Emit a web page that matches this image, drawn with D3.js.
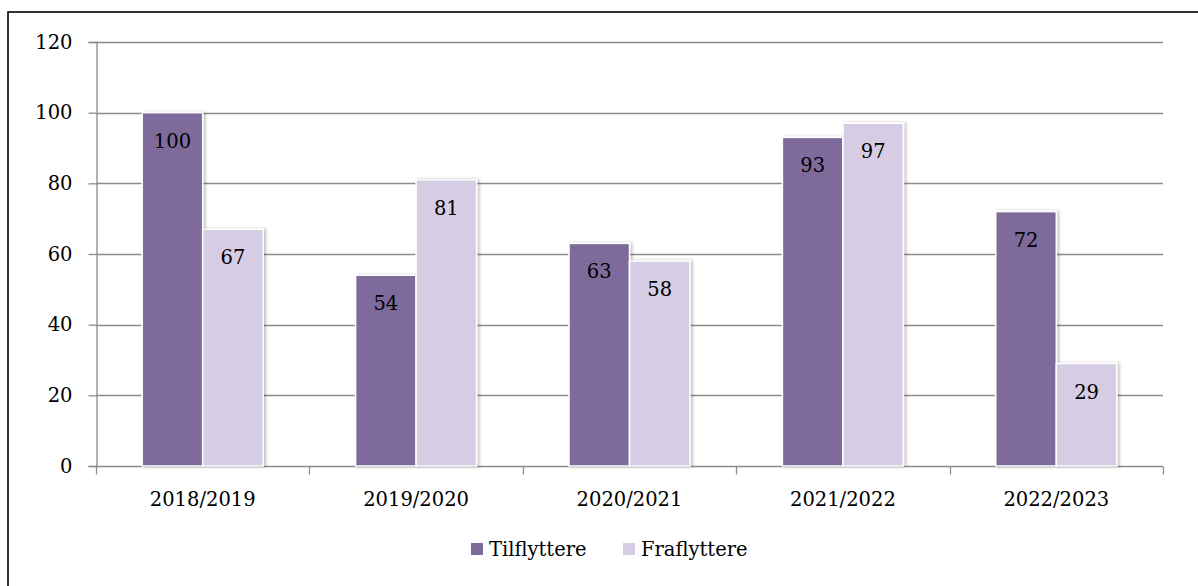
<!DOCTYPE html>
<html>
<head>
<meta charset="utf-8">
<script src="https://cdn.jsdelivr.net/npm/d3@7"></script>
<style>
  body { margin: 0; background: #fff; }
  svg { display: block; font-family: "DejaVu Serif", serif; }
</style>
</head>
<body>
<script>
// data
var years = ["2018/2019", "2019/2020", "2020/2021", "2021/2022", "2022/2023"];
var series = ["Tilflyttere", "Fraflyttere"];
var tilflyttere = [100, 54, 63, 93, 72];
var fraflyttere = [67, 81, 58, 97, 29];
var yTicks = [0, 20, 40, 60, 80, 100, 120];

var colors = {"Tilflyttere": "#7f6a9c", "Fraflyttere": "#d6cde5"};

var width = 1198, height = 586;
var margin = {left: 96, right: 35, top: 42, bottom: 120};

var svg = d3.select("body").append("svg")
	.attr("width", width)
	.attr("height", height);

// soft shadow behind the bars
var defs = svg.append("defs");
var filter = defs.append("filter").attr("id", "shadow")
	.attr("x", "-10%").attr("y", "-10%").attr("width", "130%").attr("height", "120%");
filter.append("feDropShadow")
	.attr("dx", 2).attr("dy", 0).attr("stdDeviation", 1.5)
	.attr("flood-color", "#000").attr("flood-opacity", 0.25);

// outer frame
svg.append("rect")
	.attr("x", 8).attr("y", 12)
	.attr("width", 1210).attr("height", 600)
	.attr("fill", "none")
	.attr("stroke", "#000")
	.attr("stroke-width", 1.6);

var x0 = d3.scaleBand()
	.domain(years)
	.range([margin.left, width - margin.right])
	.padding(0);

var y = d3.scaleLinear()
	.domain([0, 120])
	.range([height - margin.bottom, margin.top]);

var pairW = 121;
var x1 = d3.scaleBand()
	.domain(series)
	.range([(x0.bandwidth() - pairW) / 2, (x0.bandwidth() + pairW) / 2]);

// gridlines
svg.append("g")
	.selectAll("line")
	.data(yTicks.filter(function (d) { return d > 0; }))
	.enter()
	.append("line")
	.attr("x1", margin.left)
	.attr("x2", width - margin.right)
	.attr("y1", function (d) { return Math.round(y(d)) + 0.5; })
	.attr("y2", function (d) { return Math.round(y(d)) + 0.5; })
	.attr("stroke", "#8c8c8c")
	.attr("stroke-width", 1.3);

// y axis
var yAxis = svg.append("g")
	.attr("transform", "translate(" + (margin.left + 0.5) + ",0)")
	.call(d3.axisLeft(y).tickValues(yTicks).tickSize(8).tickPadding(16));
yAxis.selectAll("text")
	.attr("font-size", 19.5)
	.attr("font-family", "DejaVu Serif")
	.attr("fill", "#000");

// x axis with ticks on category boundaries
var xAxisG = svg.append("g")
	.attr("transform", "translate(0," + (Math.round(y(0)) + 0.5) + ")");
xAxisG.append("line")
	.attr("x1", margin.left)
	.attr("x2", width - margin.right)
	.attr("stroke", "#8c8c8c")
	.attr("stroke-width", 1.3);
var bounds = years.map(function (d) { return x0(d); }).concat([x0.range()[1]]);
xAxisG.selectAll(".bt")
	.data(bounds)
	.enter()
	.append("line")
	.attr("x1", function (d) { return Math.round(d) + 0.5; })
	.attr("x2", function (d) { return Math.round(d) + 0.5; })
	.attr("y1", 0).attr("y2", 8)
	.attr("stroke", "#8c8c8c")
	.attr("stroke-width", 1.3);
xAxisG.selectAll(".lbl")
	.data(years)
	.enter()
	.append("text")
	.attr("x", function (d) { return x0(d) + x0.bandwidth() / 2; })
	.attr("y", 39)
	.attr("text-anchor", "middle")
	.attr("font-size", 19.5)
	.text(function (d) { return d; });

yAxis.selectAll("line").attr("stroke", "#8c8c8c").attr("stroke-width", 1.3);
yAxis.select(".domain").attr("stroke", "#8c8c8c").attr("stroke-width", 1.3);

// bars
var rows = years.map(function (yr, i) {
	return {year: yr, values: [
		{key: "Tilflyttere", value: tilflyttere[i]},
		{key: "Fraflyttere", value: fraflyttere[i]}
	]};
});

var group = svg.append("g")
	.selectAll("g")
	.data(rows)
	.enter()
	.append("g")
	.attr("transform", function (d) { return "translate(" + x0(d.year) + ",0)"; });

group.selectAll("rect")
	.data(function (d) { return d.values; })
	.enter()
	.append("rect")
	.attr("x", function (d) { return x1(d.key); })
	.attr("y", function (d) { return y(d.value); })
	.attr("width", x1.bandwidth())
	.attr("height", function (d) { return y(0) - y(d.value); })
	.attr("fill", function (d) { return colors[d.key]; })
	.attr("stroke", "#fff")
	.attr("stroke-width", 1.5)
	.attr("filter", "url(#shadow)");

group.selectAll("text")
	.data(function (d) { return d.values; })
	.enter()
	.append("text")
	.attr("x", function (d) { return x1(d.key) + x1.bandwidth() / 2; })
	.attr("y", function (d) { return y(d.value) + 35; })
	.attr("text-anchor", "middle")
	.attr("font-size", 19.5)
	.attr("fill", "#000")
	.text(function (d) { return d.value; });

// legend
var legendX = [471, 623];
var legend = svg.append("g")
	.selectAll("g")
	.data(series)
	.enter()
	.append("g")
	.attr("transform", function (d, i) { return "translate(" + legendX[i] + ",543)"; });

legend.append("rect")
	.attr("width", 12)
	.attr("height", 12)
	.attr("fill", function (d) { return colors[d]; });

legend.append("text")
	.attr("x", 18)
	.attr("y", 13)
	.attr("font-size", 19.5)
	.text(function (d) { return d; });
</script>
</body>
</html>
